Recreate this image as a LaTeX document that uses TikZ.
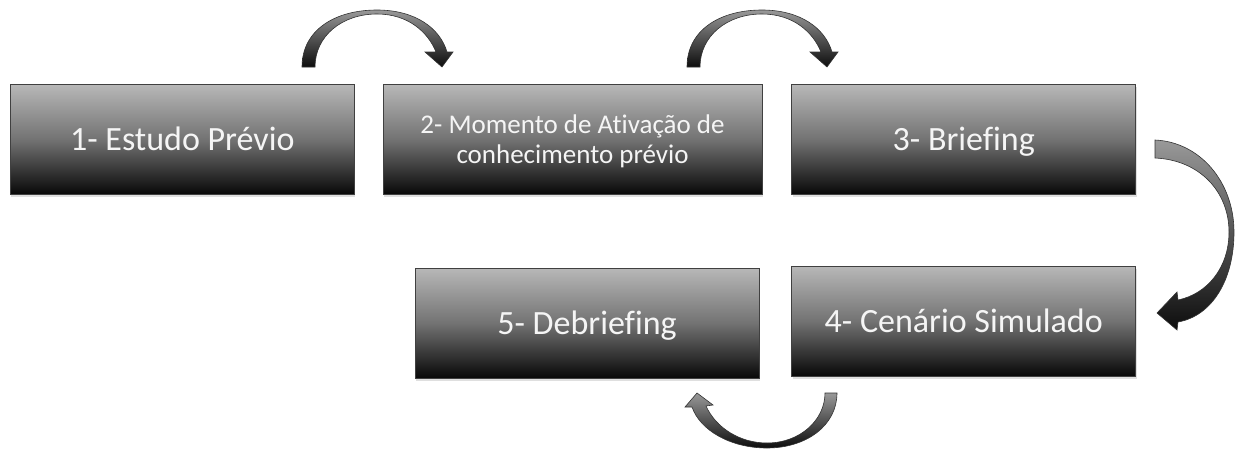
\documentclass[tikz,border=0pt]{standalone}
\usepackage{fontspec}
\setmainfont[Ligatures=NoCommon]{Carlito}
\usetikzlibrary{positioning,shadows}

\tikzset{
  etapa/.style={draw=black!75, line width=0.7pt, top color=black!28, bottom color=black!97, middle color=black!55,
    text=white!96!black, minimum height=110pt, minimum width=344pt, align=center,
    font=\fontsize{34}{40}\selectfont,
    drop shadow={opacity=0.25, shadow xshift=1pt, shadow yshift=-2.5pt}},
  umalinha/.style={text height=22pt, text depth=0pt},
  seta/.style={draw=black!80, line width=0.6pt, top color=black!40, bottom color=black!95},
}

\begin{document}
\begin{tikzpicture}[x=1pt, y=-1pt]
\useasboundingbox (0,0) rectangle (1235,450);
% etapas
\node[etapa, umalinha, anchor=north west] (b1) at (10,84) {1- Estudo Prévio};
\node[etapa, minimum width=379pt, right=28pt of b1, font=\fontsize{27}{30}\selectfont, text height=48pt, text depth=0pt] (b2) {2- Momento de Ativação de\\conhecimento prévio};
\node[etapa, umalinha, right=29pt of b2] (b3) {3- Briefing};
\node[etapa, umalinha, below=71pt of b3] (b4) {4- Cenário Simulado};
\node[etapa, umalinha, left=32pt of b4, yshift=-2pt] (b5) {5- Debriefing};
% setas curvas
\draw[seta] (302,67) .. controls (302,30) and (335,10) .. (377,10) .. controls (415,10) and (440,28) .. (447,52) -- (453,52) -- (442,67) -- (425,52) -- (436,52) .. controls (428,32) and (408,14) .. (377,14) .. controls (342,14) and (315,36) .. (315,67) -- cycle;
\draw[seta, xshift=385pt] (302,67) .. controls (302,30) and (335,10) .. (377,10) .. controls (415,10) and (440,28) .. (447,52) -- (453,52) -- (442,67) -- (425,52) -- (436,52) .. controls (428,32) and (408,14) .. (377,14) .. controls (342,14) and (315,36) .. (315,67) -- cycle;
\draw[seta] (1155,140) .. controls (1200,142) and (1234,182) .. (1234,232) .. controls (1234,280) and (1212,316) .. (1178,322) -- (1177,330) -- (1157,313) -- (1177,292) -- (1178,300) .. controls (1207,294) and (1229,268) .. (1229,232) .. controls (1229,192) and (1200,160) .. (1155,158) -- cycle;
\draw[seta] (837,393) .. controls (837,425) and (807,448) .. (767,448) .. controls (730,448) and (700,430) .. (692,407) -- (685,407) -- (697,393) -- (713,405) -- (706,406) .. controls (716,428) and (740,443) .. (767,443) .. controls (800,443) and (825,420) .. (825,393) -- cycle;
\end{tikzpicture}
\end{document}
